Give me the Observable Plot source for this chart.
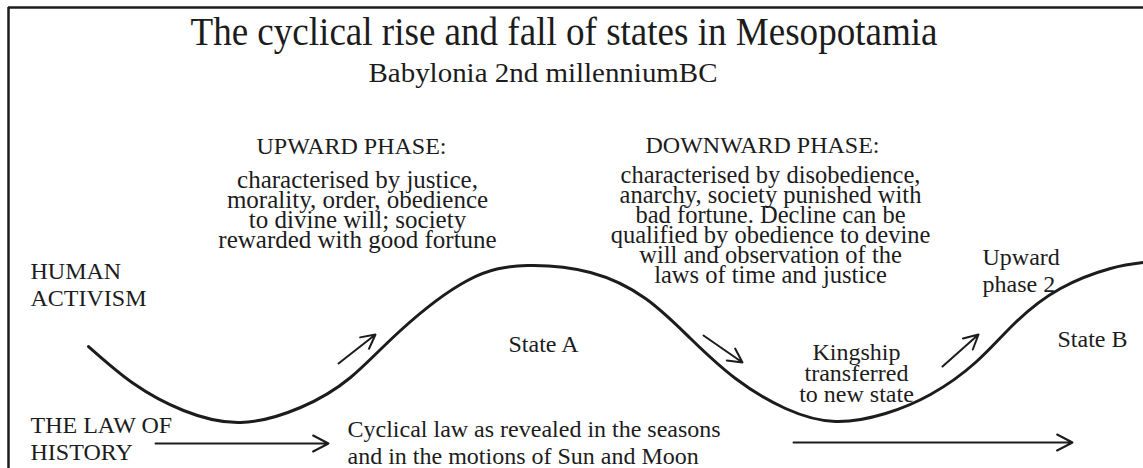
<!DOCTYPE html>
<html>
<head>
<meta charset="utf-8">
<script src="https://cdn.jsdelivr.net/npm/d3@7"></script>
<script src="https://cdn.jsdelivr.net/npm/@observablehq/plot@0.6"></script>
<style>
  html, body { margin: 0; padding: 0; background: #fff; }
  #chart svg { display: block; }
</style>
</head>
<body>
<div id="chart"></div>
<script>
// ---- data (diagram coordinates) ----
const curveX = [88, 133, 183, 240, 300, 350, 400, 467, 527, 590, 645, 690, 735, 785, 835, 885, 930, 975, 1015, 1060, 1110, 1143];
const curveY = [346, 383, 410, 422, 407, 377, 330, 280, 265, 272, 298, 338, 378, 408, 421, 413, 394, 362, 322, 288, 268, 262];

const arrowX1 = [338, 703, 942, 155, 793];
const arrowY1 = [363, 335, 366, 443, 442];
const arrowX2 = [375, 742, 978, 328, 1072];
const arrowY2 = [334, 362, 334, 443, 442];

const titleText = "The cyclical rise and fall of states in Mesopotamia";
const subtitleText = "Babylonia 2nd millenniumBC";

const labelTexts = [
  "UPWARD PHASE:",
  "characterised by justice,\nmorality, order, obedience\nto divine will; society\nrewarded with good fortune",
  "DOWNWARD PHASE:",
  "characterised by disobedience,\nanarchy, society punished with\nbad fortune. Decline can be\nqualified by obedience to devine\nwill and observation of the\nlaws of time and justice",
  "State A",
  "State B",
  "Kingship\ntransferred\nto new state",
  "HUMAN\nACTIVISM",
  "THE LAW OF\nHISTORY",
  "Upward\nphase 2",
  "Cyclical law as revealed in the seasons\nand in the motions of Sun and Moon"
];
const labelX = [351, 357, 762, 770, 543, 1092, 856, 30, 30, 982, 347];
const labelY = [153, 247, 152, 282, 351, 346, 401, 305, 459, 291, 463];

const frameTop = [7];
const frameLeft = [8];

// ---- build tables ----
const curve = curveX.map((x, i) => ({x, y: curveY[i]}));
const arrows = arrowX1.map((x1, i) => ({x1, y1: arrowY1[i], x2: arrowX2[i], y2: arrowY2[i]}));
const labels = labelTexts.map((t, i) => ({t, x: labelX[i], y: labelY[i]}));
const pick = idx => idx.map(i => labels[i]);

const ink = "#1c1c1c";

const chart = Plot.plot({
  width: 1143,
  height: 468,
  margin: 0,
  x: {domain: [0, 1143], range: [0, 1143], axis: null},
  y: {domain: [0, 468], range: [0, 468], axis: null},
  style: {fontFamily: "'Liberation Serif', 'Times New Roman', serif", background: "#fff", color: ink},
  marks: [
    Plot.ruleY(frameTop, {x1: d => frameLeft[0], x2: 1143, y: d => d, stroke: ink, strokeWidth: 2.5}),
    Plot.ruleX(frameLeft, {x: d => d, y1: d => frameTop[0], y2: 468, stroke: ink, strokeWidth: 2.5}),
    Plot.line(curve, {x: "x", y: "y", curve: "natural", stroke: ink, strokeWidth: 3}),
    Plot.arrow(arrows, {x1: "x1", y1: "y1", x2: "x2", y2: "y2", stroke: ink, strokeWidth: 2, headLength: 13, headAngle: 55}),
    Plot.text([titleText], {x: 563.5, y: 44, text: d => d, fontSize: 40, textAnchor: "middle", lineAnchor: "bottom", fill: ink}),
    Plot.text([subtitleText], {x: 542.5, y: 81, text: d => d, fontSize: 27, textAnchor: "middle", lineAnchor: "bottom", fill: ink}),
    // centred headings & paragraphs
    Plot.text(pick([0, 2]), {x: "x", y: "y", text: "t", fontSize: 24, textAnchor: "middle", lineAnchor: "bottom", fill: ink}),
    Plot.text(pick([1]), {x: "x", y: "y", text: "t", fontSize: 25, lineHeight: 0.8, textAnchor: "middle", lineAnchor: "bottom", fill: ink}),
    Plot.text(pick([3]), {x: "x", y: "y", text: "t", fontSize: 24.5, lineHeight: 0.81, textAnchor: "middle", lineAnchor: "bottom", fill: ink}),
    Plot.text(pick([4, 5]), {x: "x", y: "y", text: "t", fontSize: 24, textAnchor: "middle", lineAnchor: "bottom", fill: ink}),
    Plot.text(pick([6]), {x: "x", y: "y", text: "t", fontSize: 24, lineHeight: 0.855, textAnchor: "middle", lineAnchor: "bottom", fill: ink}),
    // left-aligned labels
    Plot.text(pick([7, 8, 9, 10]), {x: "x", y: "y", text: "t", fontSize: 24, lineHeight: 1.11, textAnchor: "start", lineAnchor: "bottom", fill: ink})
  ]
});

// fit the title lines to their measured widths
chart.querySelectorAll("text").forEach(t => {
  if (t.textContent === titleText) { t.setAttribute("textLength", 747); t.setAttribute("lengthAdjust", "spacingAndGlyphs"); }
  if (t.textContent === subtitleText) { t.setAttribute("textLength", 349); t.setAttribute("lengthAdjust", "spacingAndGlyphs"); }
});

document.getElementById("chart").appendChild(chart);
</script>
</body>
</html>
